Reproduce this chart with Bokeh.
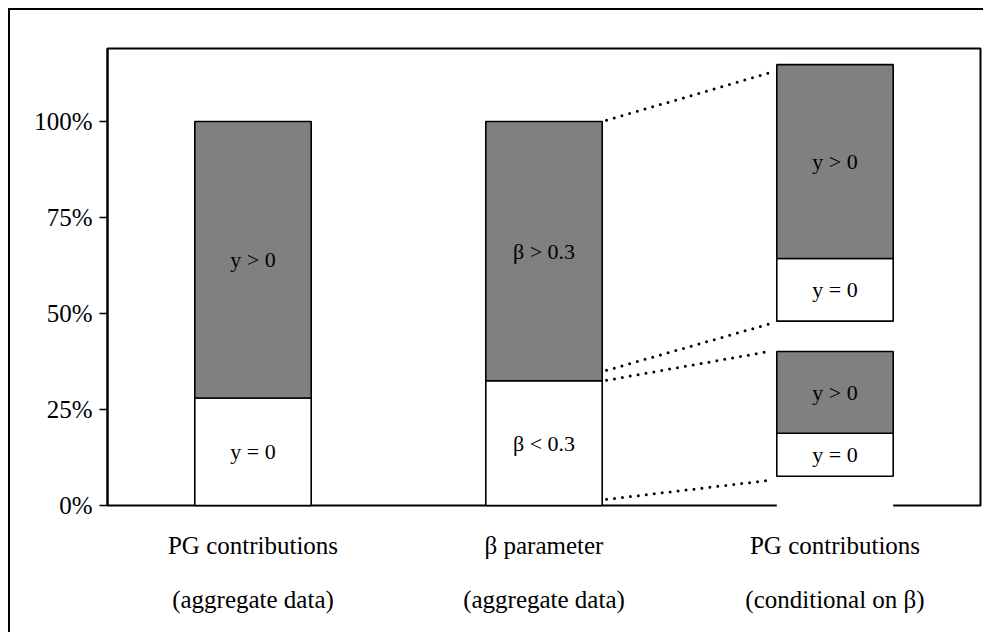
from bokeh.plotting import figure
from bokeh.models import FixedTicker, Range1d, ColumnDataSource
from bokeh.core.properties import value
from bokeh.embed import file_html
from bokeh.resources import INLINE

# ---------------- data ----------------
categories = ["PG contributions\n(aggregate data)",
              "\u03b2 parameter\n(aggregate data)",
              "PG contributions\n(conditional on \u03b2)"]
y_ticks = [0, 25, 50, 75, 100]
y_tick_labels = ["0%", "25%", "50%", "75%", "100%"]

# bar 1: PG contributions (aggregate data)
pg_zero = 28.0
pg_pos = 72.0
# bar 2: beta parameter (aggregate data)
beta_low = 32.5
beta_high = 67.5
# bar 3: PG contributions conditional on beta (two floating stacks)
cond_high_base = 48.0
cond_high_zero = 16.3
cond_high_pos = 50.5
cond_low_base = 7.6
cond_low_zero = 11.2
cond_low_pos = 21.3

# dotted connector levels (left end at bar 2, right end at bar 3)
conn_start = [100.3, 35.2, 32.6, 1.6]
conn_end = [112.8, 47.4, 40.2, 6.6]

seg_labels_1 = ["y = 0", "y > 0"]
seg_labels_2 = ["\u03b2 < 0.3", "\u03b2 > 0.3"]
seg_labels_3 = ["y = 0", "y > 0"]

# ---------------- styles ----------------
GRAY = "#808080"
FONT = "Liberation Serif"
BAR_W = 0.4
HALF = BAR_W / 2

# ---------------- build segments ----------------
xs, bottoms, tops, fills, labels = [], [], [], [], []

def add_stack(x, base, parts, names):
    b = base
    for i, (h, n) in enumerate(zip(parts, names)):
        xs.append(x)
        bottoms.append(b)
        tops.append(b + h)
        fills.append("white" if i == 0 else GRAY)
        labels.append(n)
        b += h

add_stack(0, 0.0, [pg_zero, pg_pos], seg_labels_1)
add_stack(1, 0.0, [beta_low, beta_high], seg_labels_2)
add_stack(2, cond_low_base, [cond_low_zero, cond_low_pos], seg_labels_3)
add_stack(2, cond_high_base, [cond_high_zero, cond_high_pos], seg_labels_3)

src = ColumnDataSource(dict(
    left=[x - HALF for x in xs],
    right=[x + HALF for x in xs],
    bottom=bottoms,
    top=tops,
    fill=fills,
    label=labels,
    x=xs,
    mid=[(b + t) / 2 for b, t in zip(bottoms, tops)],
))

p = figure(width=975, height=624,
           x_range=Range1d(-0.5, 2.5), y_range=Range1d(0, 119),
           output_backend="svg", toolbar_location=None,
           min_border_left=97, min_border_right=5,
           min_border_top=38, min_border_bottom=129)
p.styles = {"margin-left": "8px", "margin-top": "8px",
            "border-top": "2px solid black", "border-left": "2px solid black"}

p.background_fill_color = "white"
p.border_fill_color = "white"
p.outline_line_color = "black"
p.outline_line_width = 2
p.outline_line_alpha = 1.0
p.xgrid.visible = False
p.ygrid.visible = False

# y axis
p.yaxis.ticker = FixedTicker(ticks=y_ticks)
p.yaxis.major_label_overrides = {t: l for t, l in zip(y_ticks, y_tick_labels)}
p.yaxis.axis_line_color = "black"
p.yaxis.axis_line_width = 2
p.yaxis.major_tick_in = 0
p.yaxis.major_tick_out = 8
p.yaxis.major_tick_line_width = 1.5
p.yaxis.minor_tick_line_color = None
p.yaxis.major_label_standoff = 7
p.yaxis.major_label_text_font = FONT
p.yaxis.major_label_text_font_size = "25px"
p.yaxis.major_label_text_color = "black"

# x axis
p.xaxis.ticker = FixedTicker(ticks=[0, 1, 2])
p.xaxis.major_label_overrides = {i: c for i, c in enumerate(categories)}
p.xaxis.axis_line_color = None
p.xaxis.major_tick_line_color = None
p.xaxis.minor_tick_line_color = None
p.xaxis.major_label_standoff = 20
p.xaxis.major_label_text_font = FONT
p.xaxis.major_label_text_font_size = "25px"
p.xaxis.major_label_text_color = "black"
p.xaxis.major_label_text_line_height = 2.0

# white gap under the lower floating stack (covers the bottom frame line)
p.quad(left=[2 - HALF], right=[2 + HALF], bottom=[-0.8], top=[cond_low_base],
       fill_color="white", line_color=None, level="overlay")

# bars
p.quad(left="left", right="right", bottom="bottom", top="top", source=src,
       fill_color="fill", line_color="black", line_width=1.6, level="overlay")

p.text(x="x", y="mid", text="label", source=src,
       text_font=value(FONT), text_font_size="22px", text_color="black",
       text_align="center", text_baseline="middle", level="overlay")

# dotted connectors
x0 = 1 + HALF + 0.015
x1 = 2 - HALF - 0.02
p.segment(x0=[x0] * len(conn_start), y0=conn_start,
          x1=[x1] * len(conn_end), y1=conn_end,
          line_color="black", line_width=3, line_dash="0 8",
          line_cap="round", level="overlay")

open("out.html", "w").write(file_html(p, INLINE))
